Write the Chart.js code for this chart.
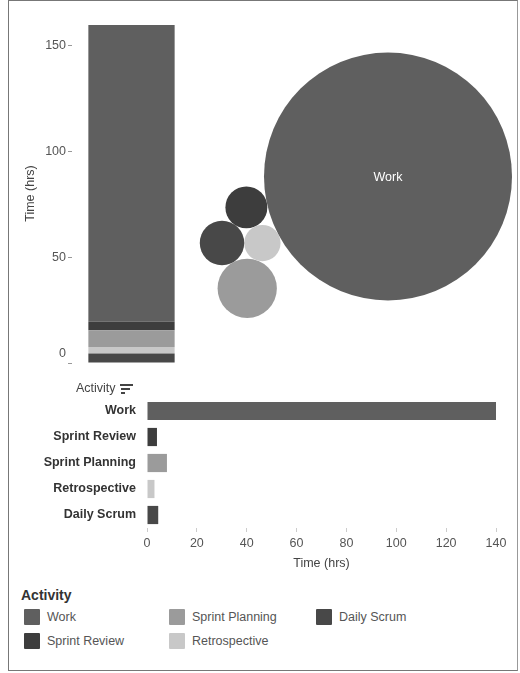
<!DOCTYPE html>
<html>
<head>
<meta charset="utf-8">
<script src="https://cdn.jsdelivr.net/npm/chart.js@4.4.0/dist/chart.umd.min.js"></script>
<style>
  html, body { margin: 0; padding: 0; background: #fff; }
  body { width: 520px; height: 673px; position: relative; overflow: hidden;
         font-family: 'Liberation Sans', Arial, Helvetica, sans-serif; }
  .frame { position: absolute; left: 8px; top: 0; width: 508px; height: 669px;
           border: 1px solid #777; border-right-color: #999; }
  .box { position: absolute; }
  #sortLabel { position: absolute; left: 76px; top: 380px; font-size: 12.5px; color: #444; line-height: 16px; }
  .sort-bar { position: absolute; height: 2px; background: #444; }
  .legend-title { position: absolute; left: 21px; top: 586px; font-weight: bold; font-size: 14px;
                  color: #333; line-height: 18px; }
  #legendItems { position: absolute; left: 24px; top: 605px; display: grid;
                 grid-template-rows: 24px 24px; grid-auto-flow: column;
                 grid-template-columns: 145px 147px auto; }
  .legend-item { display: flex; align-items: center; height: 24px; font-size: 12.5px; color: #555; }
  .swatch { width: 16px; height: 16px; margin-right: 7px; border-radius: 1px; }
</style>
</head>
<body>
<div class="frame"></div>

<div class="box" style="left:0;top:0"><canvas id="stackChart" width="200" height="380"></canvas></div>
<div class="box" style="left:190px;top:20px"><canvas id="packChart" width="330" height="320"></canvas></div>
<div class="box" style="left:0;top:390px"><canvas id="barChart" width="520" height="185"></canvas></div>

<div id="sortLabel">Activity</div>
<div class="sort-bar" style="left:120px;top:384px;width:13px"></div>
<div class="sort-bar" style="left:121px;top:388px;width:9px"></div>
<div class="sort-bar" style="left:121px;top:392px;width:4px"></div>

<div class="legend-title">Activity</div>
<div id="legendItems"></div>

<script>
// data, ordered as in the bar chart (largest first)
const activities = ['Work', 'Sprint Review', 'Sprint Planning', 'Retrospective', 'Daily Scrum'];
const hours = [140, 4, 8, 3, 4.5];
const colors = ['#5f5f5f', '#3d3d3d', '#9b9b9b', '#c8c8c8', '#484848'];

const yTicks = [0, 50, 100, 150];
const xTicks = [0, 20, 40, 60, 80, 100, 120, 140];

const FONT = "'Liberation Sans', Arial, Helvetica, sans-serif";
Chart.defaults.font.family = FONT;

const noInteraction = { legend: { display: false }, tooltip: { enabled: false } };

// keep the chart area exactly where layout.padding puts it
const fixedWidth = w => s => { s.width = w; s.paddingTop = 0; s.paddingBottom = 0; };

// 1. stacked column, bottom = last activity
new Chart(document.getElementById('stackChart'), {
    type: 'bar',
    data: {
        labels: ['Activity'],
        datasets: activities.map((a, i) => ({
            label: a, data: [hours[i]], backgroundColor: colors[i]
        })).reverse()
    },
    options: {
        responsive: false,
        animation: false,
        events: [],
        layout: { padding: { top: 24, bottom: 17, left: 0, right: 9 } },
        plugins: noInteraction,
        datasets: { bar: { barPercentage: 0.725, categoryPercentage: 1 } },
        scales: {
            x: { stacked: true, display: false },
            y: {
                stacked: true, min: 0, max: 160,
                afterFit: fixedWidth(72),
                afterBuildTicks: s => { s.ticks = yTicks.map(v => ({ value: v })); },
                border: { display: false },
                grid: { drawOnChartArea: false, drawTicks: true, tickLength: 4, color: '#999' },
                ticks: {
                    padding: 2, color: '#555',
                    font: { size: 12.5, lineHeight: '18px' },
                    // the 0 label sits a bit above its tick in the original
                    callback: v => v === 0 ? ['0', ''] : String(v)
                },
                title: {
                    display: true, text: 'Time (hrs)', color: '#444',
                    font: { size: 12.5 }, padding: { top: 23, bottom: 0 }
                }
            }
        }
    }
});

// 2. packed bubbles: radius ~ sqrt(hours), each circle touching its neighbours
const BUBBLE_SCALE = 10.48;          // px per sqrt(hour)
const FIRST_ANGLE = 167.7 * Math.PI / 180;
const ORIGIN = { x: 198, y: 156.5 }; // centre of the big circle, in canvas px

function touching(a, b, r, pickFn) {
    const da = a.r + r, db = b.r + r;
    const dx = b.x - a.x, dy = b.y - a.y;
    const d = Math.hypot(dx, dy);
    const l = (da * da - db * db + d * d) / (2 * d);
    const h = Math.sqrt(Math.max(0, da * da - l * l));
    const ux = dx / d, uy = dy / d;
    const bx = a.x + ux * l, by = a.y + uy * l;
    const c1 = { x: bx - uy * h, y: by + ux * h, r };
    const c2 = { x: bx + uy * h, y: by - ux * h, r };
    return pickFn(c1, c2);
}
const lower = (p, q) => p.y > q.y ? p : q;
const lefter = (p, q) => p.x < q.x ? p : q;

const radius = hours.map(h => Math.sqrt(h) * BUBBLE_SCALE);
const work = { x: ORIGIN.x, y: ORIGIN.y, r: radius[0] };
const review = {
    x: work.x + Math.cos(FIRST_ANGLE) * (radius[0] + radius[1]),
    y: work.y + Math.sin(FIRST_ANGLE) * (radius[0] + radius[1]),
    r: radius[1]
};
const retro = touching(work, review, radius[3], lower);
const daily = touching(review, retro, radius[4], lefter);
const planning = touching(daily, retro, radius[2], lower);
const circles = [work, review, planning, retro, daily];

const bubbleLabels = {
    id: 'bubbleLabels',
    afterDatasetsDraw(chart) {
        const ctx = chart.ctx;
        const meta = chart.getDatasetMeta(0);
        ctx.save();
        ctx.font = '12.5px ' + FONT;
        ctx.fillStyle = '#fff';
        ctx.textAlign = 'center';
        ctx.textBaseline = 'middle';
        meta.data.forEach((el, i) => {
            const label = activities[i];
            if (el.options.radius > ctx.measureText(label).width) ctx.fillText(label, el.x, el.y + 1);
        });
        ctx.restore();
    }
};

new Chart(document.getElementById('packChart'), {
    type: 'bubble',
    data: {
        datasets: [{
            data: circles.map(c => ({ x: c.x, y: c.y, r: c.r })),
            backgroundColor: colors,
            borderWidth: 0,
            clip: false
        }]
    },
    options: {
        responsive: false,
        animation: false,
        events: [],
        layout: { padding: 0, autoPadding: false },
        plugins: noInteraction,
        scales: {
            x: { type: 'linear', min: 0, max: 330, display: false },
            y: { type: 'linear', min: 0, max: 320, reverse: true, display: false }
        }
    },
    plugins: [bubbleLabels]
});

// 3. horizontal bars
new Chart(document.getElementById('barChart'), {
    type: 'bar',
    data: {
        labels: activities,
        datasets: [{ data: hours, backgroundColor: colors, barPercentage: 0.7, categoryPercentage: 1 }]
    },
    options: {
        indexAxis: 'y',
        responsive: false,
        animation: false,
        events: [],
        layout: { padding: { top: 8, right: 24, left: 0, bottom: 0 } },
        plugins: noInteraction,
        scales: {
            y: {
                afterFit: fixedWidth(147),
                grid: { display: false, drawTicks: false },
                border: { display: false },
                ticks: { padding: 11, color: '#333', font: { size: 12.5, weight: 'bold' } }
            },
            x: {
                min: 0, max: 140,
                afterFit: s => { s.height = 47; },
                afterBuildTicks: s => { s.ticks = xTicks.map(v => ({ value: v })); },
                border: { display: false },
                grid: { drawOnChartArea: false, drawTicks: true, tickLength: 4, color: '#ccc' },
                ticks: { padding: 4, color: '#555', font: { size: 12.5 } },
                title: {
                    display: true, text: 'Time (hrs)', color: '#444',
                    font: { size: 12.5 }, padding: { top: 0, bottom: 4 }
                }
            }
        }
    }
});

// 4. legend, filled column by column
const legendBox = document.getElementById('legendItems');
activities.forEach((a, i) => {
    const item = document.createElement('div');
    item.className = 'legend-item';
    item.innerHTML = `<span class="swatch" style="background:${colors[i]}"></span>${a}`;
    legendBox.appendChild(item);
});
</script>
</body>
</html>
